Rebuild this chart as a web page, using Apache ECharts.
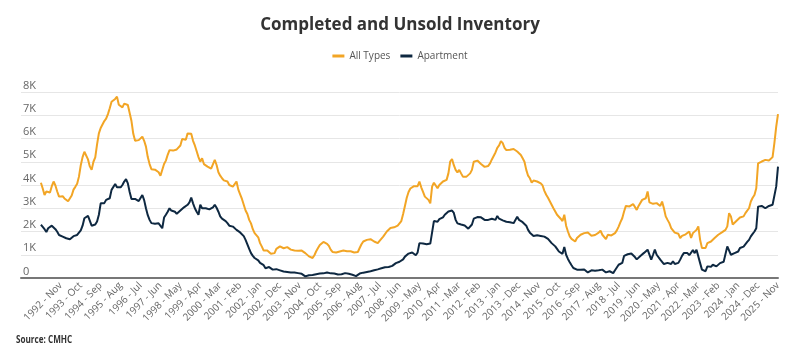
<!DOCTYPE html>
<html>
<head>
<meta charset="utf-8">
<script src="https://cdn.jsdelivr.net/npm/echarts@6/dist/echarts.min.js"></script>
<style>html,body{margin:0;padding:0;background:#fff}#chart{width:800px;height:354px}</style>
</head>
<body>
<div id="chart"></div>
<script>
// Monthly series, Dec 1991 .. Nov 2025 (408 months).
const allTypes = [
4100,3850,3570,3720,3750,3680,3950,4150,3980,3720,3500,3550,3520,3420,3360,3300,3290,3550,3800,
3920,
4050,4360,4850,5200,5430,5400,5100,4800,4650,5000,5190,5750,6220,6450,6600,6750,6850,7050,7300,7580,7620,7700,7800,7450,7380,7340,7500,7580,7440,7100,6750,6200,5900,5940,
5930,
5920,6080,5900,5650,5200,4900,4680,4650,4660,4650,4550,4400,4360,4900,5050,5300,5500,5450,5480,5440,5530,5600,5700,5980,6050,5950,6220,6300,6200,5900,5700,5450,5200,5000,5150,4900,4820,4790,
4750,
4700,4650,5080,4860,4550,4400,4290,4200,4180,4150,4000,3930,3930,4000,4150,3800,3600,3400,3150,2900,2750,2500,2350,2100,1930,1850,1750,1500,1350,1180,1140,1180,1100,1040,
1055,
1070,1250,1320,1360,1290,1280,1330,1330,1270,1220,1240,1180,1140,1170,1200,1180,1120,1070,1020,930,880,860,980,1150,1290,1420,1500,1550,1540,1470,1380,1220,1120,1070,1100,1120,1140,
1160,
1180,1220,1150,1140,1150,1140,1100,1070,1120,1290,1450,1570,1620,1640,1660,1670,1630,1570,1520,1500,1600,1670,1780,1860,2000,2070,2150,2150,2180,2220,2250,2300,2450,2750,3100,3450,
3700,
3850,3900,3950,3920,3950,4150,3900,3700,3500,3420,3360,3210,3930,4100,3980,3860,4000,4080,4150,4200,4220,4500,5010,5120,4850,4650,4540,4650,4500,4360,4340,4360,4390,4500,4650,5000,
5030,
5050,5050,4900,4860,4780,4760,4820,4930,5100,5250,5400,5600,5700,5890,5800,5600,5500,5550,5520,5500,5550,5500,5440,5380,5290,5150,5000,4650,4400,4290,4100,4190,4170,4150,4100,4070,
3980,
3750,3580,3450,3300,3150,3000,2860,2720,2650,2550,2450,2720,2250,2000,1790,1680,1610,1570,1720,1800,1860,1900,1930,1950,1960,1880,1820,1810,1850,1860,1950,2040,1860,1930,1670,1860,
1840,
1830,1790,1930,2050,2210,2400,2570,2860,3100,3150,3080,3150,3180,3220,2930,3100,3150,3360,3330,3430,3720,3250,3220,3190,3150,3220,3150,3100,3290,3000,2650,2500,2360,2150,2070,1950,
1920,
1900,1720,1810,1860,1880,1900,2000,1720,1930,1860,2070,2220,1640,1290,1220,1290,1500,1430,1570,1650,1720,1800,1860,1930,1960,2000,2070,2220,2790,2650,2300,2360,2450,2500,2600,
2620,
2650,2790,2900,3000,3290,3450,3570,3860,4930,4860,5010,4930,5080,5010,5050,5080,5200,5800,6500,7050
];
const apartment = [
2290,2200,2100,1980,2140,2100,2250,2240,2100,1990,1850,1820,1780,1740,1710,1700,1670,1750,1800,
1820,
1850,1900,2050,2250,2570,2640,2670,2600,2250,2180,2300,2430,2720,3210,3290,3220,3360,3400,3430,3790,3860,4040,3900,3880,3900,4000,4150,4250,4070,3700,3400,3360,3400,3330,
3310,
3290,3570,3350,3000,2700,2500,2360,2360,2330,2290,2350,2360,2140,2600,2720,2850,3000,2900,2930,2850,2760,2760,2900,2950,3040,3110,3150,3250,3460,3210,3000,2850,2720,3150,3000,3000,3000,2970,
2950,
2920,3040,3150,3020,2850,2650,2550,2500,2450,2360,2250,2210,2210,2150,2070,2000,1960,1900,1800,1640,1450,1250,1070,950,860,800,760,650,600,550,420,400,470,400,
360,
330,380,360,330,300,280,240,260,250,240,220,240,220,210,200,180,190,70,100,120,110,130,140,160,170,190,180,200,220,240,220,200,180,190,160,150,140,
160,
180,210,200,180,190,140,100,80,140,190,220,230,240,260,280,290,310,330,350,370,400,420,440,460,500,470,450,520,600,640,680,700,740,800,920,1000,
1050,
1100,1100,1050,980,1100,1500,1520,1480,1500,1450,1500,1480,1450,2450,2500,2420,2530,2550,2610,2720,2800,2860,2930,2900,2800,2500,2350,2400,2300,2220,2260,2220,2120,2070,2300,2550,
2590,
2620,2550,2610,2550,2500,2560,2500,2520,2550,2480,2500,2670,2550,2500,2480,2450,2420,2380,2400,2450,2360,2400,2630,2500,2450,2400,2380,2250,2070,1950,1880,1810,1850,1840,1830,1810,
1800,
1780,1760,1680,1640,1500,1450,1360,1250,1140,1060,1040,1330,1000,820,680,550,430,380,360,360,350,360,370,350,240,300,330,300,310,300,330,340,360,300,240,300,
290,
280,210,330,450,570,620,650,950,1000,1020,1000,1050,980,900,800,880,950,1000,1080,1100,1220,1140,790,1000,1220,1000,930,790,860,600,620,650,620,600,720,600,
620,
650,790,950,1070,1050,1070,980,930,1200,1070,1220,1220,640,360,320,290,500,430,480,570,520,500,580,640,720,700,720,1360,1330,1000,1050,1070,1120,1140,1290,
1320,
1350,1430,1550,1640,1790,1900,2000,2140,3070,3000,3100,3150,3000,3050,3100,3040,3150,3200,3930,4790
];
// Tick labels shown every 11 months, starting at month index 11 (Nov 1992)
const tickLabels = ['1992 - Nov','1993 - Oct','1994 - Sep','1995 - Aug','1996 - Jul','1997 - Jun','1998 - May','1999 - Apr','2000 - Mar','2001 - Feb','2002 - Jan','2002 - Dec','2003 - Nov','2004 - Oct','2005 - Sep','2006 - Aug','2007 - Jul','2008 - Jun','2009 - May','2010 - Apr','2011 - Mar','2012 - Feb','2013 - Jan','2013 - Dec','2014 - Nov','2015 - Oct','2016 - Sep','2017 - Aug','2018 - Jul','2019 - Jun','2020 - May','2021 - Apr','2022 - Mar','2023 - Feb','2024 - Jan','2024 - Dec','2025 - Nov'];

const chart = echarts.init(document.getElementById('chart'), null, {renderer:'canvas'});
const font = '"Open Sans", "Noto Sans", sans-serif';
chart.setOption({
  animation: false,
  backgroundColor: '#fff',
  title: {
    text: 'Completed and Unsold Inventory',
    left: 'center', top: 12,
    textStyle: {fontFamily: font, fontSize: 17, fontWeight: 'bold', color: '#333'}
  },
  legend: {
    top: 46, left: 'center',
    icon: 'rect', itemWidth: 12, itemHeight: 3, itemGap: 10,
    textStyle: {fontFamily: font, fontSize: 10, color: '#555'},
    data: ['All Types', 'Apartment']
  },
  grid: {left: 21, right: 22, top: 92, bottom: 76, containLabel: false},
  xAxis: {
    type: 'value', min: -11, max: 407, interval: 11,
    axisLine: {show: true, lineStyle: {color: '#777', width: 2}},
    axisTick: {show: false},
    splitLine: {show: false},
    axisLabel: {
      rotate: 45, margin: 6, fontSize: 10, color: '#666', fontFamily: font,
      formatter: v => (v >= 11 ? tickLabels[Math.round(v / 11) - 1] || '' : '')
    }
  },
  yAxis: {
    type: 'value', min: 0, max: 8000, interval: 1000,
    axisLine: {show: false}, axisTick: {show: false},
    splitLine: {lineStyle: {color: '#e6e6e6', width: 1}},
    axisLabel: {
      align: 'left', verticalAlign: 'bottom', margin: -2, padding: [0,0,1,0],
      fontSize: 11, color: '#666', fontFamily: font,
      formatter: v => (v === 0 ? '0' : (v / 1000) + 'K')
    }
  },
  series: [
    {name: 'All Types', type: 'line', showSymbol: false, symbol: 'none',
     lineStyle: {width: 2, color: '#F2A525'}, itemStyle: {color: '#F2A525'},
     data: allTypes.map((v, i) => [i, v])},
    {name: 'Apartment', type: 'line', showSymbol: false, symbol: 'none',
     lineStyle: {width: 2, color: '#0E2841'}, itemStyle: {color: '#0E2841'},
     data: apartment.map((v, i) => [i, v])}
  ],
  graphic: [{
    type: 'text', x: 16, y: 334, scaleX: 0.74,
    style: {text: 'Source: CMHC', font: 'bold 11px "Open Sans", sans-serif', fill: '#333'}
  }]
});
</script>
</body>
</html>
